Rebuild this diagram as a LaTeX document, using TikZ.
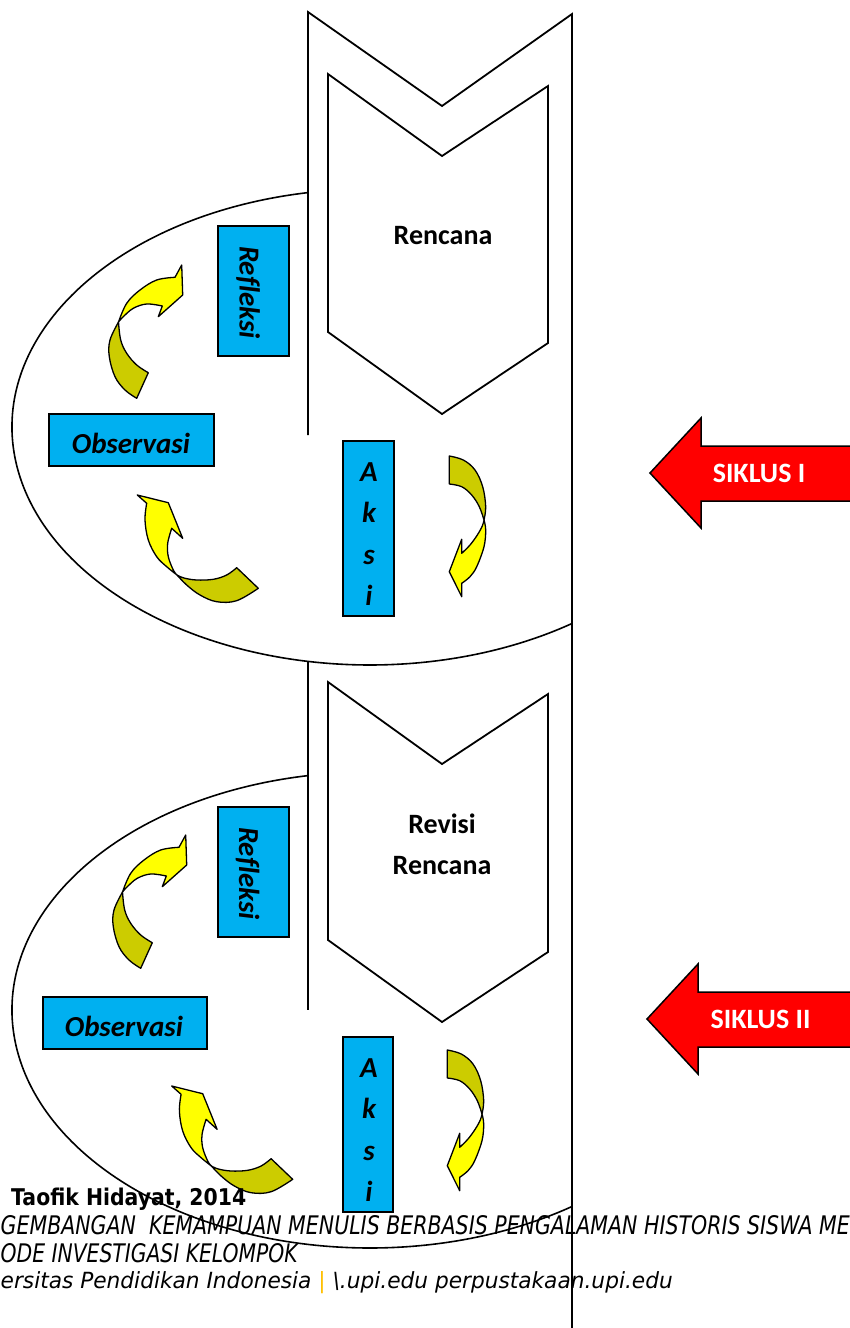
\documentclass[tikz,border=0pt]{standalone}
\usepackage{fontspec}
\setmainfont{Carlito}[Ligatures=CommonOff]
\newfontfamily\footfont{DejaVu Sans}
\definecolor{boxcyan}{HTML}{00B0F0}
\definecolor{arrowyellow}{HTML}{FFFF00}
\definecolor{arrowolive}{HTML}{CCCC00}
\definecolor{sikred}{HTML}{FF0000}
\definecolor{barorange}{HTML}{FFC000}
\tikzset{
  frame/.style={line width=1.8pt, line join=miter, draw=black},
  ring/.style={line width=1.6pt, draw=black},
  labelbox/.style={draw=black, fill=boxcyan, line width=1.6pt, inner sep=0pt},
  labeltext/.style={inner sep=0pt, font=\fontsize{29}{41.5}\selectfont\bfseries\itshape},
  plantext/.style={inner sep=0pt, font=\fontsize{28}{34}\selectfont\bfseries},
  arrY/.style={fill=arrowyellow, draw=black, line width=1.3pt, line join=round},
  arrO/.style={fill=arrowolive, draw=black, line width=1.3pt, line join=round},
  cyclearrow/.style={fill=sikred, draw=black, line width=1.5pt, line join=miter},
  cycletext/.style={inner sep=0pt, text=white, font=\fontsize{28}{34}\selectfont\bfseries},
  foot/.style={anchor=base west, inner sep=0pt}
}
\newcommand{\MyArrowA}{%
  \filldraw[arrY] plot[smooth,tension=0.6] coordinates {(118.5,322) (126.7,303.3) (140,290) (156.7,280) (175,277.3)}
    -- (181.7,265) -- (182.7,295) -- (158.3,316.7) -- (162.3,306)
    -- plot[smooth,tension=0.6] coordinates {(162.3,306) (146.7,304) (133.3,308.3) (123.3,316.7) (118.5,322)} -- cycle;
  \filldraw[arrO] plot[smooth,tension=0.6] coordinates {(118.5,322) (110,340) (109.3,356.7) (115,376.7) (125,390) (136.7,398.3)}
    -- (148.3,372.7)
    -- plot[smooth,tension=0.6] coordinates {(148.3,372.7) (136.7,365) (126.7,353.3) (120.7,340) (118.5,322)} -- cycle;
}
\newcommand{\MyArrowB}{%
  \filldraw[arrY] (137.3,495) -- (168.3,502.7) -- (182.7,538.3) -- (171.7,528.3)
    -- plot[smooth,tension=0.6] coordinates {(171.7,528.3) (167.7,543.3) (168.3,556.7) (173.3,570) (177,575)}
    -- plot[smooth,tension=0.6] coordinates {(177,575) (166.7,566.7) (156.7,556.7) (148.3,540) (145,520) (146.7,503.3)} -- cycle;
  \filldraw[arrO] plot[smooth,tension=0.6] coordinates {(177,575) (186.7,585) (200,595) (216.7,601.7) (236.7,600.7) (258.3,588.3)}
    -- (236.7,567.7)
    -- plot[smooth,tension=0.6] coordinates {(236.7,567.7) (226.7,575) (213.3,579.3) (196.7,580) (184,578) (177,575)} -- cycle;
}
\newcommand{\MyArrowC}{%
  \filldraw[arrO] plot[smooth,tension=0.6] coordinates {(449.3,456) (463.3,460) (475,470) (482.7,486.7) (485.7,506.7) (484,520)}
    -- plot[smooth,tension=0.6] coordinates {(484,520) (479.3,506.7) (471.7,495) (461.7,486.7) (449.3,484)} -- cycle;
  \filldraw[arrY] plot[smooth,tension=0.6] coordinates {(484,520) (485.7,530) (484,546.7) (476.7,566.7) (470,576.7) (461.7,583.3)}
    -- (461.7,596.7) -- (449.3,571.7) -- (461.7,539.3) -- (461.7,553.3)
    -- plot[smooth,tension=0.6] coordinates {(461.7,553.3) (470,545) (477.3,535) (482.3,526) (484,520)} -- cycle;
}
\begin{document}
\begin{tikzpicture}[x=1pt,y=-1pt]
\useasboundingbox (0,0) rectangle (850,1328);
\clip (0,0) rectangle (850,1328);
\fill[white] (0,0) rectangle (850,1328);

% cycle ellipses
\coordinate (e1) at (370,427);
\coordinate (e2) at (370,1010);
\draw[ring] ([shift={(260.03:358 and 238)}]e1) arc[start angle=260.03, end angle=55.65, x radius=358, y radius=238];
\draw[ring] ([shift={(260.03:358 and 238)}]e2) arc[start angle=260.03, end angle=55.65, x radius=358, y radius=238];

% outer frame and chevrons
\draw[frame] (308,435) -- (308,12) -- (442,106) -- (572,14) -- (572,1332);
\draw[frame] (308,662) -- (308,1010);
\draw[frame] (328,74) -- (442,156) -- (548,86) -- (548,343) -- (442,414) -- (328,332) -- cycle;
\draw[frame] (328,682) -- (442,764) -- (548,694) -- (548,952) -- (442,1022) -- (328,940) -- cycle;
\node[plantext, anchor=base] (plan1) at (443,244) {Rencana};
\node[plantext, anchor=base] (plan2a) at (442,833) {Revisi};
\node[plantext, anchor=base] (plan2b) at (442,874) {Rencana};

% cycle I boxes
\node[labelbox, minimum width=71pt, minimum height=130pt] (ref1) at (253.5,291) {};
\node[labeltext, rotate=-90] (ref1t) at (248,292.5) {Refleksi};
\node[labelbox, minimum width=165pt, minimum height=52pt] (obs1) at (131.5,440) {};
\node[labeltext] (obs1t) at (131,443.5) {Observasi};
\node[labelbox, minimum width=51pt, minimum height=175pt] (aks1) at (368.5,528.5) {};
\node[labeltext, align=center] (aks1t) at (369,534.3) {A\\k\\s\\i};

% cycle II boxes
\node[labelbox, minimum width=71pt, minimum height=130pt] (ref2) at (253.5,872) {};
\node[labeltext, rotate=-90] (ref2t) at (247.5,873.5) {Refleksi};
\node[labelbox, minimum width=164pt, minimum height=52pt] (obs2) at (125,1023) {};
\node[labeltext] (obs2t) at (124,1026.5) {Observasi};
\node[labelbox, minimum width=50pt, minimum height=175pt] (aks2) at (368,1124.5) {};
\node[labeltext, align=center] (aks2t) at (369,1130.3) {A\\k\\s\\i};

% curved arrows
\MyArrowA
\MyArrowB
\MyArrowC
\begin{scope}[shift={(4,570)}]\MyArrowA\end{scope}
\begin{scope}[shift={(34.4,591)}]\MyArrowB\end{scope}
\begin{scope}[shift={(-2,594)}]\MyArrowC\end{scope}

% cycle arrows
\filldraw[cyclearrow] (860,446) -- (701,446) -- (701,418) -- (650,473) -- (701,528) -- (701,501) -- (860,501) -- cycle;
\node[cycletext] (sik1) at (759,473) {SIKLUS I};
\filldraw[cyclearrow] (860,992) -- (698,992) -- (698,964) -- (647,1019) -- (698,1074) -- (698,1047) -- (860,1047) -- cycle;
\node[cycletext] (sik2) at (760.5,1019) {SIKLUS II};

% footer
\node[foot] (author) at (11,1205) {\resizebox{235pt}{17.5pt}{\footfont\bfseries Taofik Hidayat, 2014}};
\node[foot] (title1) at (0.5,1234) {\resizebox{849pt}{19pt}{\footfont\itshape GEMBANGAN\ \ KEMAMPUAN MENULIS BERBASIS PENGALAMAN HISTORIS SISWA ME}};
\node[foot] (title2) at (0.5,1262) {\resizebox{297pt}{19pt}{\footfont\itshape ODE INVESTIGASI KELOMPOK}};
\node[foot] (univ) at (0.5,1288) {\resizebox{672pt}{17pt}{\footfont\itshape ersitas Pendidikan Indonesia {\color{barorange}|} \textbackslash.upi.edu perpustakaan.upi.edu}};
\end{tikzpicture}
\end{document}
